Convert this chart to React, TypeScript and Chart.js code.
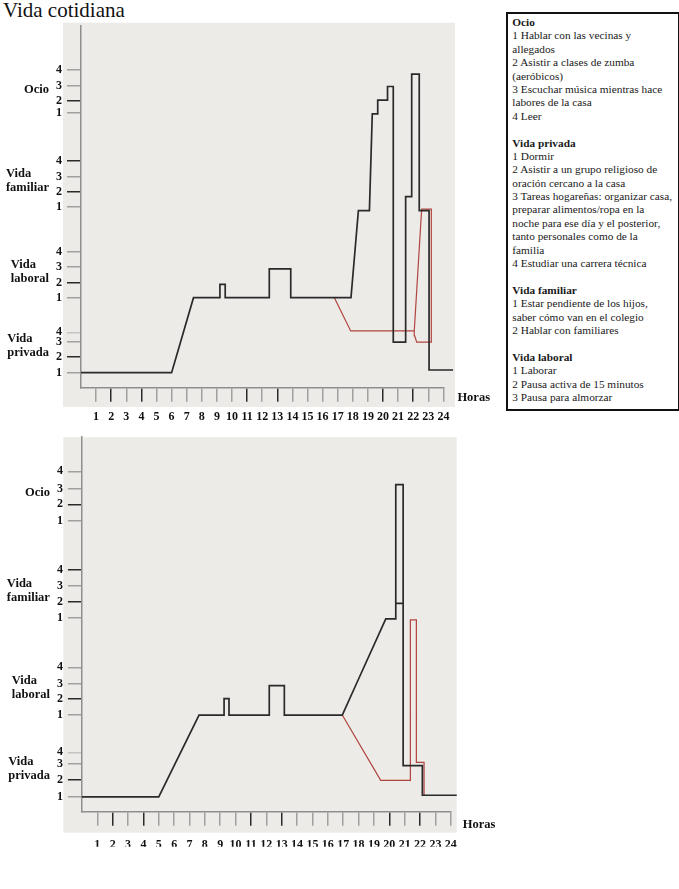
import React, { useEffect, useRef } from "react";
import { Chart, registerables } from "chart.js";

Chart.register(...registerables);

// ---------- data ----------
const hourTicks = [1, 2, 3, 4, 5, 6, 7, 8, 9, 10, 11, 12, 13, 14, 15, 16, 17, 18, 19, 20, 21, 22, 23, 24];
const darkHourTicks = [2, 4, 11, 13, 20, 22];
const levelLabels = ["1", "2", "3", "4"];
const categoryLabels = [["Vida", "privada"], ["Vida", "laboral"], ["Vida", "familiar"], ["Ocio"]];

// y-axis tick positions (privada 1-4, laboral 1-4, familiar 1-4, ocio 1-4)
const topLevelTicks = [1.0, 2.07, 3.07, 3.69, 6.0, 7.0, 8.05, 9.05, 12.07, 13.07, 14.07, 15.09, 18.29, 19.13, 20.13, 21.16];
const bottomLevelTicks = [0.95, 2.06, 3.08, 3.82, 6.22, 7.26, 8.24, 9.29, 12.46, 13.52, 14.54, 15.58, 18.74, 19.78, 20.8, 21.9];

// top chart
const topBlackHours = [0, 6.0, 7.45, 9.2, 9.2, 9.55, 9.55, 12.47, 12.47, 13.89, 13.89, 17.88, 18.37, 19.1, 19.29, 19.65, 19.65, 20.3, 20.3, 20.68, 20.68, 21.5, 21.5, 21.9, 21.9, 22.4, 22.4, 23.05, 23.05, 24.64];
const topBlackLevels = [1.0, 1.0, 6.0, 6.0, 6.88, 6.88, 6.0, 6.0, 7.92, 7.92, 6.0, 6.0, 11.8, 11.8, 18.25, 18.25, 19.16, 19.16, 20.07, 20.07, 3.03, 3.03, 12.73, 12.73, 20.9, 20.9, 11.8, 11.8, 1.18, 1.18];
const topRedHours = [16.78, 17.86, 22.07, 22.56, 23.2, 23.2, 22.23, 22.1, 22.07];
const topRedLevels = [6.0, 3.78, 3.78, 11.9, 11.9, 3.03, 3.03, 3.45, 3.78];

// bottom chart
const bottomBlackHours = [0, 5.0, 7.62, 9.25, 9.25, 9.57, 9.57, 12.19, 12.19, 13.17, 13.17, 16.94, 17.83, 19.77, 20.42, 20.42, 20.9, 20.9, 20.42, 20.9, 20.9, 22.15, 22.15, 24.39];
const bottomBlackLevels = [0.95, 0.95, 6.22, 6.22, 7.28, 7.28, 6.22, 6.22, 8.11, 8.11, 6.22, 6.22, 8.17, 12.41, 12.41, 21.05, 21.05, 13.4, 13.4, 13.4, 2.97, 2.97, 1.06, 1.06];
const bottomRedHours = [16.94, 19.44, 21.37, 21.37, 21.76, 21.76, 22.26, 22.26];
const bottomRedLevels = [6.22, 2.02, 2.02, 12.35, 12.35, 3.18, 3.18, 1.06];

const legendSections = [
  { title: "Ocio", lines: ["1 Hablar con las vecinas y", "allegados", "2 Asistir a clases de zumba", "(aeróbicos)", "3 Escuchar música mientras hace", "labores de la casa", "4 Leer"] },
  { title: "Vida privada", lines: ["1 Dormir", "2 Asistir a un grupo religioso de", "oración cercano a la casa", "3 Tareas hogareñas: organizar casa,", "preparar alimentos/ropa en la", "noche para ese día y el posterior,", "tanto personales como de la", "familia", "4 Estudiar una carrera técnica"] },
  { title: "Vida familiar", lines: ["1 Estar pendiente de los hijos,", "saber cómo van en el colegio", "2 Hablar con familiares"] },
  { title: "Vida laboral", lines: ["1 Laborar", "2 Pausa activa de 15 minutos", "3 Pausa para almorzar"] },
];

const SERIF = '"Liberation Serif", "Times New Roman", serif';

const decorPlugin = {
  id: "decor",
  beforeDraw(chart: any, _args: any, opts: any) {
    const { ctx, chartArea: a } = chart;
    ctx.save();
    ctx.fillStyle = "#ecebe8";
    const l = a.left + opts.bg[0];
    const t = a.top + opts.bg[1];
    const r = a.right + opts.bg[2];
    const b = a.bottom + opts.bg[3];
    ctx.fillRect(l, t, r - l, b - t);
    ctx.restore();
  },
  afterDraw(chart: any, _args: any, opts: any) {
    const { ctx, chartArea: a } = chart;
    const y = chart.scales.y;
    ctx.save();
    ctx.fillStyle = "#111";
    ctx.font = `bold 12.5px ${SERIF}`;
    ctx.textBaseline = "middle";
    ctx.textAlign = "left";
    categoryLabels.forEach((lines, i) => {
      const p3 = y.getPixelForValue(opts.ticks[i * 4 + 2]);
      const p2 = y.getPixelForValue(opts.ticks[i * 4 + 1]);
      const cy = p3 * 0.7 + p2 * 0.3;
      const w = Math.max(...lines.map((s) => ctx.measureText(s).width));
      const left = a.left - 32 - w;
      lines.forEach((s, j) => {
        ctx.fillText(s, left, cy + (j - (lines.length - 1) / 2) * 14);
      });
    });
    ctx.font = `bold 12.5px ${SERIF}`;
    ctx.fillText("Horas", a.right + opts.horas[0], a.bottom + opts.horas[1]);
    ctx.restore();
  },
};

type Cfg = {
  top: number;
  height: number;
  ticks: number[];
  blackH: number[];
  blackL: number[];
  redH: number[];
  redL: number[];
  padding: { left: number; top: number; right: number; bottom: number };
  yWidth: number;
  xPad: number;
  bg: number[];
  horas: number[];
};

function pts(h: number[], l: number[]) {
  return h.map((x, i) => ({ x, y: l[i] }));
}

function LifeChart({ cfg }: { cfg: Cfg }) {
  const ref = useRef<HTMLCanvasElement>(null);
  useEffect(() => {
    if (!ref.current) return;
    const chart = new Chart(ref.current, {
      type: "line",
      data: {
        datasets: [
          {
            data: pts(cfg.blackH, cfg.blackL),
            borderColor: "#2a2a2a",
            borderWidth: 1.7,
            pointRadius: 0,
            tension: 0,
            clip: false as any,
          },
          {
            data: pts(cfg.redH, cfg.redL),
            borderColor: "#b1443d",
            borderWidth: 1.2,
            pointRadius: 0,
            tension: 0,
            clip: false as any,
          },
        ],
      },
      plugins: [decorPlugin as any],
      options: {
        animation: false,
        responsive: true,
        maintainAspectRatio: false,
        events: [],
        layout: { padding: cfg.padding },
        plugins: {
          legend: { display: false },
          tooltip: { enabled: false },
          decor: { ticks: cfg.ticks, bg: cfg.bg, horas: cfg.horas },
        } as any,
        scales: {
          x: {
            type: "linear",
            min: 0,
            max: 24,
            afterBuildTicks: (s: any) => {
              s.ticks = hourTicks.map((v) => ({ value: v }));
            },
            afterFit: (s: any) => {
              s.height = 35;
            },
            grid: {
              drawOnChartArea: false,
              drawTicks: true,
              tickLength: 14,
              lineWidth: 1.5,
              color: (c: any) => (darkHourTicks.includes(c.tick?.value) ? "#2a2a2a" : "#a0a0a0"),
            },
            border: { display: true, color: "#8e8e8e", width: 1.5 },
            ticks: {
              autoSkip: false,
              maxRotation: 0,
              padding: cfg.xPad,
              color: "#111",
              font: { family: SERIF, size: 12, weight: "bold" },
              callback: (v: any) => String(v),
            },
          },
          y: {
            type: "linear",
            min: 0,
            max: 24.1,
            afterBuildTicks: (s: any) => {
              s.ticks = cfg.ticks.map((v) => ({ value: v }));
            },
            afterFit: (s: any) => {
              s.width = cfg.yWidth;
            },
            grid: {
              drawOnChartArea: false,
              drawTicks: true,
              tickLength: 14,
              lineWidth: 1.5,
              color: (c: any) => {
                const i = c.index;
                return i % 4 === 1 || i === 11 ? "#2a2a2a" : i === 3 ? "#c4c4c4" : "#a0a0a0";
              },
            },
            border: { display: true, color: "#8e8e8e", width: 1.5 },
            ticks: {
              autoSkip: false,
              padding: 5,
              color: "#111",
              font: { family: SERIF, size: 12, weight: "bold" },
              callback: (_v: any, i: number) => levelLabels[i % 4],
            },
          },
        } as any,
      },
    });
    return () => chart.destroy();
  }, [cfg]);
  return (
    <div style={{ position: "absolute", left: 0, top: cfg.top, width: 500, height: cfg.height }}>
      <canvas ref={ref} />
    </div>
  );
}

const topCfg: Cfg = {
  top: 0,
  height: 425,
  ticks: topLevelTicks,
  blackH: topBlackHours,
  blackL: topBlackLevels,
  redH: topRedHours,
  redL: topRedLevels,
  padding: { left: 0, top: 26, right: 56.6, bottom: 2.3 },
  yWidth: 81,
  xPad: 8,
  bg: [-18, -3.3, 11.6, 19.3],
  horas: [14, 10],
};

const bottomCfg: Cfg = {
  top: 425,
  height: 460,
  ticks: bottomLevelTicks,
  blackH: bottomBlackHours,
  blackL: bottomBlackLevels,
  redH: bottomRedHours,
  redL: bottomRedLevels,
  padding: { left: 0, top: 8, right: 49.2, bottom: 38.3 },
  yWidth: 81.9,
  xPad: 12,
  bg: [-18.6, 0, 5.9, 21],
  horas: [12, 13],
};

function Legend() {
  const lineStyle: React.CSSProperties = { height: 13.4, lineHeight: "13.4px", whiteSpace: "nowrap" };
  return (
    <div
      style={{
        position: "absolute",
        left: 506,
        top: 11.7,
        width: 165.7,
        height: 392.6,
        border: "2px solid #111",
        paddingTop: 2.3,
        paddingLeft: 4.3,
        boxSizing: "content-box",
        fontFamily: SERIF,
        fontSize: 11.3,
        color: "#1a1a1a",
        overflow: "hidden",
      }}
    >
      {legendSections.map((sec, si) => (
        <div key={sec.title}>
          {si > 0 && <div style={lineStyle} />}
          <div style={{ ...lineStyle, fontWeight: "bold" }}>{sec.title}</div>
          {sec.lines.map((ln, li) => (
            <div key={li} style={lineStyle}>
              {ln}
            </div>
          ))}
        </div>
      ))}
    </div>
  );
}

export default function App() {
  return (
    <div style={{ position: "absolute", left: 0, top: 0, width: 679, height: 889, background: "#fff" }}>
      <div
        style={{
          position: "absolute",
          left: 3,
          top: -1,
          fontFamily: SERIF,
          fontSize: 21,
          lineHeight: "23px",
          color: "#111",
          whiteSpace: "nowrap",
        }}
      >
        Vida cotidiana
      </div>
      <LifeChart cfg={topCfg} />
      <LifeChart cfg={bottomCfg} />
      <Legend />
    </div>
  );
}
